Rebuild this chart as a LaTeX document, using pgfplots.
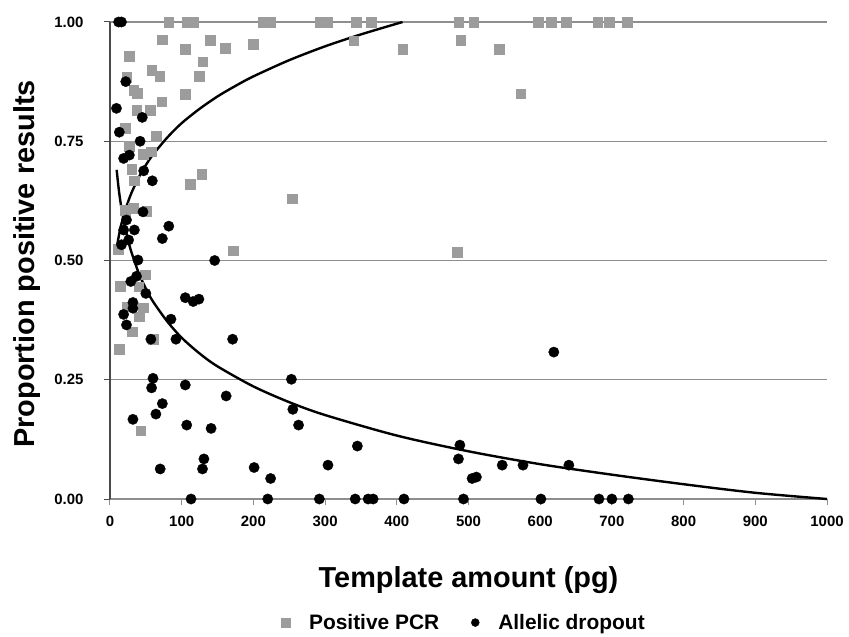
\documentclass[border=0pt]{standalone}
\usepackage{fontspec}
\setmainfont{Liberation Sans}
\usepackage{pgfplots}
\pgfplotsset{compat=1.18}
\definecolor{pcrgray}{HTML}{9C9C9C}
\definecolor{gridgray}{HTML}{8E8E8E}
\definecolor{axisdark}{HTML}{4A4A4A}

\begin{document}
\begin{tikzpicture}
\useasboundingbox (-110bp,-138bp) rectangle (739bp,499bp);
\begin{axis}[
  scale only axis, width=717bp, height=477bp,
  xmin=0, xmax=1000, ymin=0, ymax=1,
  axis lines*=left, clip=false,
  x axis line style={gridgray, line width=1.4bp},
  y axis line style={axisdark, line width=1.2bp},
  xtick={0,100,...,1000}, ytick={0,0.25,0.5,0.75,1},
  tick align=outside, major tick length=6bp,
  xtick style={gridgray, line width=1bp}, ytick style={axisdark, line width=1bp},
  ymajorgrids, grid style={gridgray, line width=1.4bp},
  /pgf/number format/assume math mode=true,
  yticklabel style={/pgf/number format/.cd, fixed, fixed zerofill, precision=2, /tikz/.cd, xshift=-17bp},
  xticklabel style={/pgf/number format/1000 sep={}, yshift=-8bp},
  tick label style={font=\bfseries\fontsize{15}{17}\selectfont},
  label style={font=\bfseries\fontsize{29}{32}\selectfont},
  xlabel={Template amount (pg)},
  ylabel={Proportion positive results},
  xlabel style={at={(axis description cs:0.5,-0.185)}, anchor=base},
  ylabel style={at={(axis description cs:-0.116,0.4927)}, anchor=center},
  legend style={at={(axis description cs:0.494,-0.259)}, anchor=center,
    draw=none, fill=none, legend columns=2,
    font=\bfseries\fontsize{21}{23}\selectfont,
    /tikz/every odd column/.append style={column sep=17bp},
    /tikz/every even column/.append style={column sep=30bp}},
]
% positive PCR
\addplot[forget plot, only marks, mark=square*, mark size=4.8bp,
  mark options={fill=pcrgray, draw=pcrgray, line width=0.3bp}] coordinates {
(82,1)(108,1)(116,1)(214,1)(224,1)(293,1)(303,1)(343,1)(364,1)(486,1)(507,1)
(597,1)(615,1)(636,1)(680,1)(696,1)(721,1)
(73,0.963)(105,0.943)(140,0.962)(161,0.945)(200,0.953)(27,0.929)(129,0.917)
(58,0.899)(69,0.887)(124,0.887)(23,0.884)(33,0.857)(38,0.851)(105,0.849)
(72,0.833)(37,0.815)(56,0.815)(21,0.778)(64,0.761)(27,0.740)(46,0.723)(57,0.728)
(30,0.691)(34,0.667)(128,0.681)(112,0.660)(254,0.630)(21,0.606)(32,0.610)
(51,0.604)(11,0.524)(172,0.521)(49,0.470)(14,0.446)(40,0.445)(23,0.403)
(46,0.401)(41,0.382)(31,0.351)(60,0.335)(13,0.314)(43,0.143)
(340,0.961)(408,0.943)(489,0.962)(543,0.943)(573,0.850)(484,0.518)
};
% allelic dropout
\addplot[forget plot, only marks, mark=*, mark size=5.2bp,
  mark options={fill=black, draw=black, line width=0.3bp}] coordinates {
(12,1)(16,1)(22,0.875)(9,0.819)(45,0.800)(13,0.769)(42,0.750)(19,0.714)
(27,0.721)(47,0.688)(59,0.667)(46,0.602)(23,0.585)(82,0.572)(19,0.564)
(34,0.564)(73,0.546)(26,0.543)(16,0.533)(39,0.501)(146,0.500)(37,0.467)
(29,0.456)(50,0.431)(105,0.422)(116,0.414)(124,0.419)(32,0.412)(32,0.400)
(19,0.387)(23,0.365)(85,0.377)(57,0.335)(92,0.335)(171,0.335)(60,0.253)
(58,0.233)(105,0.239)(253,0.251)(73,0.200)(64,0.178)(32,0.167)(107,0.155)
(162,0.216)(255,0.188)(263,0.155)(141,0.148)(70,0.063)(131,0.084)(129,0.063)
(201,0.066)(224,0.043)(345,0.111)(304,0.071)(488,0.113)(486,0.084)(505,0.043)
(511,0.046)(547,0.071)(576,0.071)(640,0.071)(619,0.308)
(113,0)(220,0)(292,0)(342,0)(360,0)(367,0)(410,0)(493,0)(601,0)(682,0)(700,0)(723,0)
};
% trend lines
\addplot[forget plot, black, line width=2.4bp, smooth] coordinates {
(9.3,0.526)(12,0.549)(15,0.571)(20,0.599)(25,0.622)(30,0.642)(40,0.674)
(50,0.700)(60,0.722)(80,0.758)(100,0.788)(125,0.818)(150,0.844)(175,0.866)
(200,0.886)(250,0.920)(300,0.949)(350,0.974)(408,1.000)
};
\addplot[forget plot, black, line width=2.4bp, smooth] coordinates {
(9.3,0.690)(12,0.652)(15,0.619)(20,0.577)(25,0.544)(30,0.517)(40,0.474)
(50,0.441)(60,0.414)(80,0.372)(100,0.338)(125,0.305)(150,0.278)(200,0.236)
(250,0.203)(300,0.176)(400,0.133)(500,0.100)(600,0.073)(700,0.051)
(800,0.031)(900,0.013)(1000,0.000)
};
\addlegendimage{only marks, mark=square*, mark size=4.2bp, mark options={fill=pcrgray, draw=pcrgray}}
\addlegendentry{Positive PCR}
\addlegendimage{only marks, mark=*, mark size=4bp, mark options={fill=black, draw=black}}
\addlegendentry{Allelic dropout}
\end{axis}
\end{tikzpicture}
\end{document}
